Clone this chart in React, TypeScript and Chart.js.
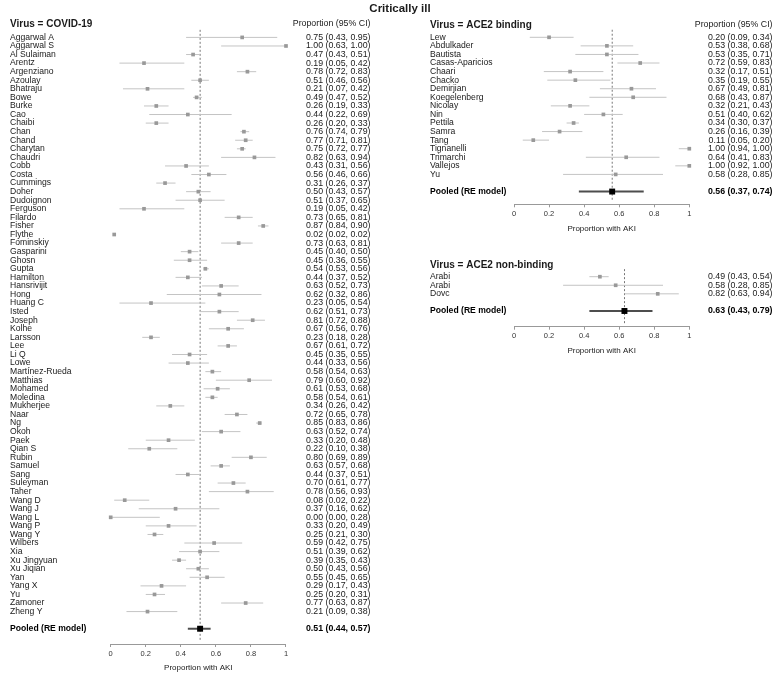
import React, { useEffect, useRef } from 'react';
import { Chart, registerables } from 'chart.js';

Chart.register(...registerables);

const FONT = '"Liberation Sans", Arial, Helvetica, sans-serif';

// ---------- Data ----------
const covidStudies = [
  'Aggarwal A', 'Aggarwal S', 'Al Sulaiman', 'Arentz', 'Argenziano', 'Azoulay', 'Bhatraju', 'Bowe', 'Burke', 'Cao',
  'Chaibi', 'Chan', 'Chand', 'Charytan', 'Chaudri', 'Cobb', 'Costa', 'Cummings', 'Doher', 'Dudoignon',
  'Ferguson', 'Filardo', 'Fisher', 'Flythe', 'Fominskiy', 'Gasparini', 'Ghosn', 'Gupta', 'Hamilton', 'Hansrivijit',
  'Hong', 'Huang C', 'Isted', 'Joseph', 'Kolhe', 'Larsson', 'Lee', 'Li Q', 'Lowe', 'Martínez-Rueda',
  'Matthias', 'Mohamed', 'Moledina', 'Mukherjee', 'Naar', 'Ng', 'Okoh', 'Paek', 'Qian S', 'Rubin',
  'Samuel', 'Sang', 'Suleyman', 'Taher', 'Wang D', 'Wang J', 'Wang L', 'Wang P', 'Wang Y', 'Wilbers',
  'Xia', 'Xu Jingyuan', 'Xu Jiqian', 'Yan', 'Yang X', 'Yu', 'Zamoner', 'Zheng Y',
];
const covidEst = [
  0.75, 1.00, 0.47, 0.19, 0.78, 0.51, 0.21, 0.49, 0.26, 0.44,
  0.26, 0.76, 0.77, 0.75, 0.82, 0.43, 0.56, 0.31, 0.50, 0.51,
  0.19, 0.73, 0.87, 0.02, 0.73, 0.45, 0.45, 0.54, 0.44, 0.63,
  0.62, 0.23, 0.62, 0.81, 0.67, 0.23, 0.67, 0.45, 0.44, 0.58,
  0.79, 0.61, 0.58, 0.34, 0.72, 0.85, 0.63, 0.33, 0.22, 0.80,
  0.63, 0.44, 0.70, 0.78, 0.08, 0.37, 0.00, 0.33, 0.25, 0.59,
  0.51, 0.39, 0.50, 0.55, 0.29, 0.25, 0.77, 0.21,
];
const covidLower = [
  0.43, 0.63, 0.43, 0.05, 0.72, 0.46, 0.07, 0.47, 0.19, 0.22,
  0.20, 0.74, 0.71, 0.72, 0.63, 0.31, 0.46, 0.26, 0.43, 0.37,
  0.05, 0.65, 0.84, 0.02, 0.63, 0.40, 0.36, 0.53, 0.37, 0.52,
  0.32, 0.05, 0.51, 0.72, 0.56, 0.18, 0.61, 0.35, 0.33, 0.54,
  0.60, 0.53, 0.54, 0.26, 0.65, 0.83, 0.52, 0.20, 0.10, 0.69,
  0.57, 0.37, 0.61, 0.56, 0.02, 0.16, 0.00, 0.20, 0.21, 0.42,
  0.39, 0.35, 0.43, 0.45, 0.17, 0.20, 0.63, 0.09,
];
const covidUpper = [
  0.95, 1.00, 0.51, 0.42, 0.83, 0.56, 0.42, 0.52, 0.33, 0.69,
  0.33, 0.79, 0.81, 0.77, 0.94, 0.56, 0.66, 0.37, 0.57, 0.65,
  0.42, 0.81, 0.90, 0.02, 0.81, 0.50, 0.55, 0.56, 0.52, 0.73,
  0.86, 0.54, 0.73, 0.88, 0.76, 0.28, 0.72, 0.55, 0.56, 0.63,
  0.92, 0.68, 0.61, 0.42, 0.78, 0.86, 0.74, 0.48, 0.38, 0.89,
  0.68, 0.51, 0.77, 0.93, 0.22, 0.62, 0.28, 0.49, 0.30, 0.75,
  0.62, 0.43, 0.56, 0.65, 0.43, 0.31, 0.87, 0.38,
];
const covidPooled = [0.51, 0.44, 0.57];

const bindingStudies = [
  'Lew', 'Abdulkader', 'Bautista', 'Casas-Aparicios', 'Chaari', 'Chacko', 'Demirjian', 'Koegelenberg', 'Nicolay',
  'Nin', 'Pettila', 'Samra', 'Tang', 'Tignanelli', 'Trimarchi', 'Vallejos', 'Yu',
];
const bindingEst = [0.20, 0.53, 0.53, 0.72, 0.32, 0.35, 0.67, 0.68, 0.32, 0.51, 0.34, 0.26, 0.11, 1.00, 0.64, 1.00, 0.58];
const bindingLower = [0.09, 0.38, 0.35, 0.59, 0.17, 0.19, 0.49, 0.43, 0.21, 0.40, 0.30, 0.16, 0.05, 0.94, 0.41, 0.92, 0.28];
const bindingUpper = [0.34, 0.68, 0.71, 0.83, 0.51, 0.55, 0.81, 0.87, 0.43, 0.62, 0.37, 0.39, 0.20, 1.00, 0.83, 1.00, 0.85];
const bindingPooled = [0.56, 0.37, 0.74];

const nonBindingStudies = ['Arabi', 'Arabi', 'Dovc'];
const nonBindingEst = [0.49, 0.58, 0.82];
const nonBindingLower = [0.43, 0.28, 0.63];
const nonBindingUpper = [0.54, 0.85, 0.94];
const nonBindingPooled = [0.63, 0.43, 0.79];

const xTickValues = [0, 0.2, 0.4, 0.6, 0.8, 1];

const chartTitle = 'Critically ill';
const ciHeader = 'Proportion (95% CI)';
const pooledLabel = 'Pooled (RE model)';
const axisTitle = 'Proportion with AKI';

// ---------- Layout ----------
const AXIS_BOX = 14;
const ROW_H = 8.57;

type Panel = {
  key: string;
  header: string;
  names: string[];
  est: number[];
  lower: number[];
  upper: number[];
  pooled: number[];
  left: number;
  top: number;
  width: number;
  height: number;
  zeroX: number;
  oneX: number;
  firstRowY: number;
  axisY: number;
  labelX: number;
  ciRight: number;
  headerY: number;
  showCiHeader: boolean;
  showTitle: boolean;
};

const panels: Panel[] = [
  {
    key: 'covid', header: 'Virus = COVID-19', names: covidStudies, est: covidEst, lower: covidLower, upper: covidUpper,
    pooled: covidPooled, left: 0, top: 0, width: 780, height: 675, zeroX: 110.7, oneX: 286, firstRowY: 37.4,
    axisY: 644, labelX: 10, ciRight: 370.5, headerY: 24, showCiHeader: true, showTitle: true,
  },
  {
    key: 'binding', header: 'Virus = ACE2 binding', names: bindingStudies, est: bindingEst, lower: bindingLower,
    upper: bindingUpper, pooled: bindingPooled, left: 390, top: 0, width: 390, height: 258, zeroX: 514, oneX: 689.3,
    firstRowY: 37.3, axisY: 204.3, labelX: 430, ciRight: 772.5, headerY: 25, showCiHeader: true, showTitle: false,
  },
  {
    key: 'nonbinding', header: 'Virus = ACE2 non-binding', names: nonBindingStudies, est: nonBindingEst,
    lower: nonBindingLower, upper: nonBindingUpper, pooled: nonBindingPooled, left: 390, top: 258, width: 390,
    height: 110, zeroX: 514, oneX: 689.3, firstRowY: 276.7, axisY: 326.7, labelX: 430, ciRight: 772.5, headerY: 265,
    showCiHeader: false, showTitle: false,
  },
];

const fmt = (v: number) => v.toFixed(2);
const ciText = (e: number, l: number, u: number) => `${fmt(e)} (${fmt(l)}, ${fmt(u)})`;

function ForestPanel({ panel }: { panel: Panel }) {
  const ref = useRef<HTMLCanvasElement>(null);

  useEffect(() => {
    const p = panel;
    const n = p.names.length;
    const pooledRow = n + 1;

    const ciData: { x: number; y: number | null }[] = [];
    p.est.forEach((_, i) => {
      ciData.push({ x: p.lower[i], y: i }, { x: p.upper[i], y: i }, { x: p.upper[i], y: null });
    });
    const pointData = p.est.map((e, i) => ({ x: e, y: i }));
    const pooledCi = [
      { x: p.pooled[1], y: pooledRow },
      { x: p.pooled[2], y: pooledRow },
    ];
    const pooledPoint = [{ x: p.pooled[0], y: pooledRow }];

    const yMax = (p.axisY - p.firstRowY) / ROW_H;

    const textPlugin = {
      id: 'forestText_' + p.key,
      beforeDatasetsDraw(chart: any) {
        const { ctx, chartArea, scales } = chart;
        const x = scales.x.getPixelForValue(p.pooled[0]);
        ctx.save();
        ctx.strokeStyle = '#555';
        ctx.lineWidth = 0.8;
        ctx.setLineDash([2, 2]);
        ctx.beginPath();
        ctx.moveTo(x, chartArea.top + 1);
        ctx.lineTo(x, chartArea.bottom - 3);
        ctx.stroke();
        ctx.restore();
      },
      afterDraw(chart: any) {
        const { ctx, chartArea, scales } = chart;
        const ys = scales.y;
        const lx = p.labelX - p.left;
        const rx = p.ciRight - p.left;
        ctx.save();
        ctx.fillStyle = '#1a1a1a';
        ctx.textBaseline = 'middle';

        if (p.showTitle) {
          ctx.font = `bold 11.5px ${FONT}`;
          ctx.textAlign = 'center';
          ctx.fillText(chartTitle, 400 - p.left, 9 - p.top);
        }

        ctx.font = `bold 10px ${FONT}`;
        ctx.textAlign = 'left';
        ctx.fillText(p.header, lx, p.headerY - p.top);

        if (p.showCiHeader) {
          ctx.font = `8.8px ${FONT}`;
          ctx.textAlign = 'right';
          ctx.fillText(ciHeader, rx, p.headerY - p.top);
        }

        for (let i = 0; i < n; i++) {
          const y = ys.getPixelForValue(i);
          ctx.font = `8.6px ${FONT}`;
          ctx.textAlign = 'left';
          ctx.fillText(p.names[i], lx, y);
          ctx.font = `8.8px ${FONT}`;
          ctx.textAlign = 'right';
          ctx.fillText(ciText(p.est[i], p.lower[i], p.upper[i]), rx, y);
        }

        const py = ys.getPixelForValue(pooledRow);
        ctx.fillStyle = '#000';
        ctx.font = `bold 8.6px ${FONT}`;
        ctx.textAlign = 'left';
        ctx.fillText(pooledLabel, lx, py);
        ctx.font = `bold 8.8px ${FONT}`;
        ctx.textAlign = 'right';
        ctx.fillText(ciText(p.pooled[0], p.pooled[1], p.pooled[2]), rx, py);

        ctx.fillStyle = '#1a1a1a';
        ctx.font = `8px ${FONT}`;
        ctx.textAlign = 'center';
        ctx.fillText(axisTitle, (chartArea.left + chartArea.right) / 2, p.axisY + 24 - p.top);
        ctx.restore();
      },
    };

    const chart = new Chart(ref.current as HTMLCanvasElement, {
      type: 'scatter',
      data: {
        datasets: [
          {
            label: 'pooled',
            data: pooledPoint,
            pointStyle: 'rect',
            pointRadius: 4.2,
            backgroundColor: '#000',
            borderColor: '#000',
            borderWidth: 0,
            clip: false,
          },
          {
            label: 'studies',
            data: pointData,
            pointStyle: 'rect',
            pointRadius: 2.6,
            backgroundColor: '#999999',
            borderColor: '#999999',
            borderWidth: 0,
            clip: false,
          },
          {
            label: 'pooled CI',
            data: pooledCi,
            showLine: true,
            spanGaps: false,
            borderColor: '#4d4d4d',
            borderWidth: 2,
            pointRadius: 0,
            clip: false,
          },
          {
            label: 'CI',
            data: ciData,
            showLine: true,
            spanGaps: false,
            borderColor: '#c4c4c4',
            borderWidth: 1,
            pointRadius: 0,
            clip: false,
          },
        ],
      } as any,
      options: {
        responsive: false,
        animation: false,
        events: [],
        layout: {
          padding: {
            left: p.zeroX - p.left,
            right: p.left + p.width - p.oneX,
            top: p.firstRowY - ROW_H - p.top,
            bottom: p.top + p.height - p.axisY - AXIS_BOX,
          },
        },
        plugins: {
          legend: { display: false },
          tooltip: { enabled: false },
          title: { display: false },
        },
        scales: {
          x: {
            type: 'linear',
            min: 0,
            max: 1,
            afterBuildTicks: (s: any) => {
              s.ticks = xTickValues.map((v) => ({ value: v }));
            },
            afterFit: (s: any) => {
              s.height = AXIS_BOX;
            },
            ticks: {
              autoSkip: false,
              maxRotation: 0,
              padding: 2,
              color: '#333',
              font: { family: FONT, size: 7.5 },
              callback: (v: any) => `${v}`,
            },
            grid: { drawOnChartArea: false, drawTicks: true, tickLength: 3, color: '#999' },
            border: { display: true, color: '#999', width: 1 },
          },
          y: {
            type: 'linear',
            reverse: true,
            min: -1,
            max: yMax,
            display: false,
          },
        },
      } as any,
      plugins: [textPlugin],
    });

    return () => chart.destroy();
  }, [panel]);

  return (
    <canvas
      ref={ref}
      width={panel.width}
      height={panel.height}
      style={{ position: 'absolute', left: panel.left, top: panel.top, width: panel.width, height: panel.height }}
    />
  );
}

export default function App() {
  return (
    <div style={{ position: 'absolute', left: 0, top: 0, width: 780, height: 675, background: '#fff', overflow: 'hidden' }}>
      {panels.map((p) => (
        <ForestPanel key={p.key} panel={p} />
      ))}
    </div>
  );
}
